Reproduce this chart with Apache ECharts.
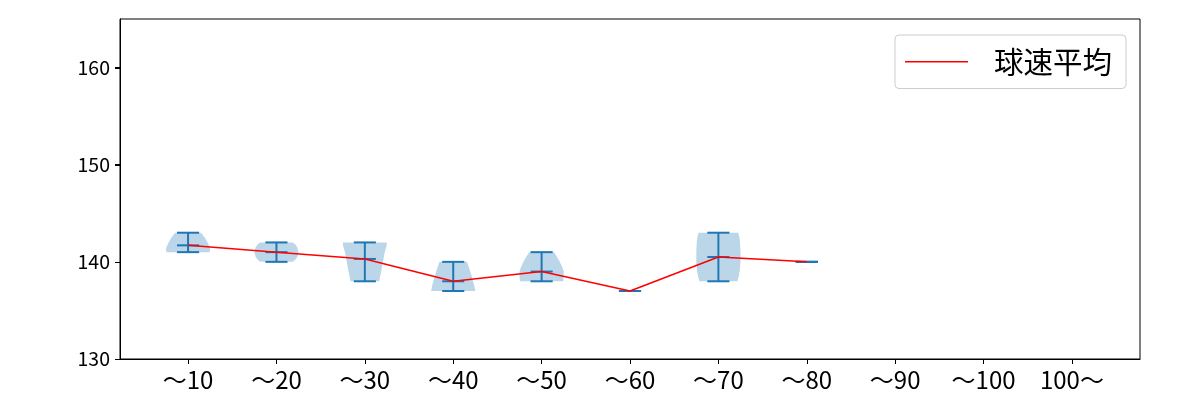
<!DOCTYPE html>
<html>
<head>
<meta charset="utf-8">
<script src="https://cdn.jsdelivr.net/npm/echarts@6/dist/echarts.min.js"></script>
<style>html,body{margin:0;padding:0;background:#fff;}#c{width:1200px;height:400px;}</style>
</head>
<body>
<div id="c"></div>
<script>
const categories = ['～10','～20','～30','～40','～50','～60','～70','～80','～90','～100','100～'];
const yTicks = [130, 140, 150, 160];
// speed stats per category (only first 8 have data)
const means = [141.7, 141.0, 140.3, 138.0, 139.0, 137.0, 140.5, 140.0];
const mins  = [141, 140, 138, 137, 138, 137, 138, 140];
const maxs  = [143, 142, 142, 140, 141, 137, 143, 140];
// violin outlines: [value, relative half-width]
const violin10 = [[143,0.58],[142.8,0.66],[142.4,0.78],[142,0.88],[141.6,0.96],[141.3,1.0],[141,0.97]];
const violin20 = [[142,0.74],[141.8,0.84],[141.5,0.94],[141,1.0],[140.5,0.94],[140.2,0.84],[140,0.74]];
const violin30 = [[142,1.0],[141.6,0.98],[141,0.9],[140,0.82],[139,0.74],[138,0.65]];
const violin40 = [[140,0.62],[139.5,0.7],[139,0.77],[138.5,0.84],[138,0.9],[137.5,0.96],[137,1.0]];
const violin50 = [[141,0.56],[140.5,0.7],[140,0.82],[139.5,0.93],[139,1.0],[138.5,1.0],[138,0.98]];
const violin60 = [];
const violin70 = [[143,0.9],[142.5,0.95],[142,0.98],[141,1.0],[140,1.0],[139,0.96],[138.5,0.92],[138,0.86]];
const violin80 = [];
const violins = [violin10, violin20, violin30, violin40, violin50, violin60, violin70, violin80];

const FONT = '"Noto Sans CJK JP", sans-serif';
const HALF = 0.25;   // max violin half-width in category units
const CAP = 0.125;   // cap half-width

const chart = echarts.init(document.getElementById('c'), null, {renderer: 'canvas'});

const violinData = [];
violins.forEach((p, i) => { if (p.length) violinData.push([i]); });
const statData = means.map((m, i) => [i, mins[i], maxs[i], m]);
const lineData = means.map((m, i) => [i, m]);

chart.setOption({
  animation: false,
  grid: {left: 120, right: 60, top: 19, bottom: 41, show: true, borderColor: '#000', borderWidth: 1, backgroundColor: 'transparent'},
  xAxis: {
    type: 'value', min: -0.77, max: 10.77,
    splitLine: {show: false},
    axisLine: {show: true, onZero: false, lineStyle: {color: '#000', width: 1}},
    axisTick: {show: true, length: 5, lineStyle: {color: '#000'}, customValues: categories.map((c, i) => i)},
    axisLabel: {show: true, margin: 9, color: '#000', fontSize: 24, fontFamily: FONT,
      customValues: categories.map((c, i) => i), formatter: v => categories[Math.round(v)]}
  },
  yAxis: {
    type: 'value', min: 130, max: 165,
    splitLine: {show: false},
    axisLine: {show: true, onZero: false, lineStyle: {color: '#000', width: 1}},
    axisTick: {show: true, length: 5, lineStyle: {color: '#000', width: 1}, customValues: yTicks},
    axisLabel: {show: true, margin: 10, color: '#000', fontSize: 19.5, fontFamily: FONT, customValues: yTicks}
  },
  legend: {
    show: true, right: 74, top: 35, orient: 'vertical',
    backgroundColor: '#fff', borderColor: '#cccccc', borderWidth: 1, borderRadius: 4,
    padding: [12, 14, 12, 10],
    itemWidth: 63, itemHeight: 1.5,
    textStyle: {fontSize: 29.5, fontFamily: FONT, color: '#000', padding: [0, 0, 0, 21]},
    data: [{name: '球速平均', icon: 'rect', itemStyle: {color: '#ff0000'}}]
  },
  series: [
    {
      type: 'custom', name: 'violin', silent: true, z: 2,
      data: violinData,
      renderItem: function (params, api) {
        const i = api.value(0);
        const prof = violins[i];
        const pts = [];
        for (let k = 0; k < prof.length; k++) pts.push(api.coord([i + prof[k][1] * HALF, prof[k][0]]));
        for (let k = prof.length - 1; k >= 0; k--) pts.push(api.coord([i - prof[k][1] * HALF, prof[k][0]]));
        return {type: 'polygon', shape: {points: pts}, style: {fill: 'rgba(31,119,180,0.3)'}};
      }
    },
    {
      type: 'custom', name: 'stats', silent: true, z: 3,
      data: statData,
      renderItem: function (params, api) {
        const i = api.value(0), lo = api.value(1), hi = api.value(2), mu = api.value(3);
        const st = {stroke: '#1f77b4', lineWidth: 2};
        const seg = (a, b) => ({type: 'line', shape: {x1: a[0], y1: a[1], x2: b[0], y2: b[1]}, style: st});
        return {type: 'group', children: [
          seg(api.coord([i, lo]), api.coord([i, hi])),
          seg(api.coord([i - CAP, lo]), api.coord([i + CAP, lo])),
          seg(api.coord([i - CAP, hi]), api.coord([i + CAP, hi])),
          seg(api.coord([i - CAP, mu]), api.coord([i + CAP, mu]))
        ]};
      }
    },
    {
      type: 'line', name: '球速平均', z: 5,
      data: lineData, symbol: 'none',
      lineStyle: {color: '#ff0000', width: 1.5}, itemStyle: {color: '#ff0000'}
    }
  ]
});

// y-axis tick marks, positioned through the axis scale
const x0 = chart.convertToPixel({xAxisIndex: 0}, -0.77);
chart.setOption({
  graphic: yTicks.map(v => {
    const y = Math.round(chart.convertToPixel({yAxisIndex: 0}, v)) + 0.5;
    return {type: 'line', silent: true, z: 100, shape: {x1: x0 - 5, y1: y, x2: x0, y2: y}, style: {stroke: '#000', lineWidth: 1}};
  })
});
</script>
</body>
</html>
